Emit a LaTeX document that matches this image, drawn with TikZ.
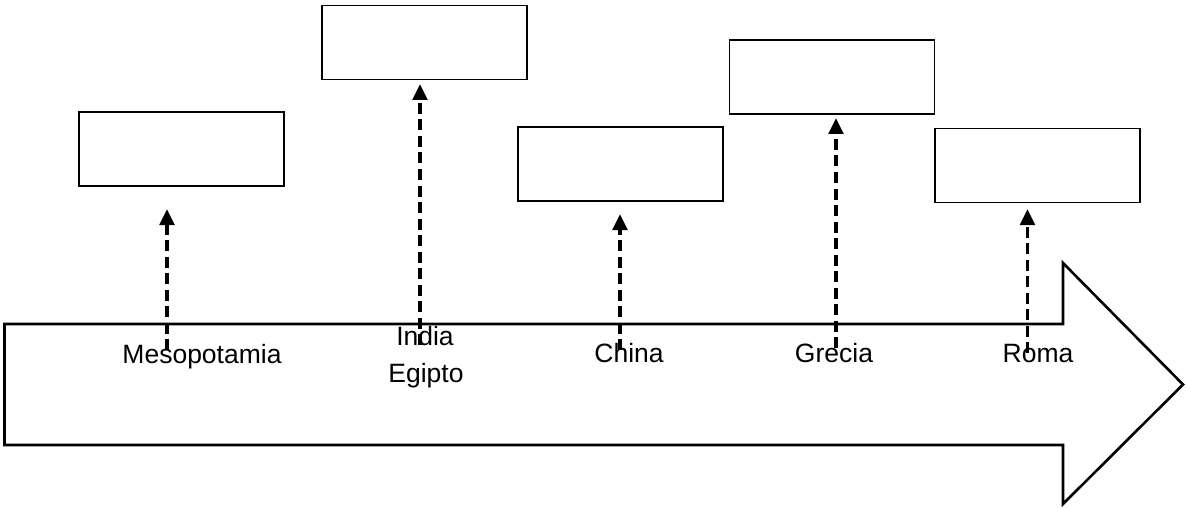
\documentclass[tikz,border=0pt]{standalone}
\usepackage{fontspec}
\setmainfont{Liberation Sans}
\usetikzlibrary{positioning,arrows.meta}

\tikzset{
  period/.style={draw, line width=1.3pt, minimum width=205pt, minimum height=74pt, inner sep=0pt},
  civ/.style={font=\fontsize{26.5}{37}\selectfont, inner sep=0pt, anchor=base},
  link/.style={dashed, dash pattern=on 11pt off 5.5pt, line width=3.4pt, -{Triangle[width=14.5pt,length=16pt]}}
}

\begin{document}
\begin{tikzpicture}[x=1pt, y=-1pt]
  % Frame
  \useasboundingbox (0,0) rectangle (1186,508);

  % Big timeline arrow
  \draw[line width=2.6pt, line join=miter] (4.5,324) -- (1063,324) -- (1063,263) -- (1183,384.5)
    -- (1063,504) -- (1063,445) -- (4.5,445) -- cycle;

  % Empty boxes
  \node[period] (mesoBox)   at (181.5,149)  {};
  \node[period] (indiaBox)  at (424.5,42.5) {};
  \node[period] (chinaBox)  at (620.5,164)  {};
  \node[period] (greciaBox) at (832,77)     {};
  \node[period] (romaBox)   at (1037.5,165.5) {};

  % Labels on the timeline
  \node[civ] (meso)   at (202,363)  {Mesopotamia};
  \node[civ] (india)  at (425,345)  {India};
  \node[civ] (egipto) at (426,382)  {Egipto};
  \node[civ] (china)  at (629,362)  {China};
  \node[civ] (grecia) at (834,362)  {Grecia};
  \node[civ] (roma)   at (1038,362) {Roma};

  % Dashed pointers
  \coordinate (mesoTail) at (167,350);   \coordinate (mesoHead) at (167,209);
  \coordinate (indiaTail) at (420,345);  \coordinate (indiaHead) at (420,84);
  \coordinate (chinaTail) at (620,350);  \coordinate (chinaHead) at (620,214);
  \coordinate (greciaTail) at (836,348); \coordinate (greciaHead) at (836,118);
  \coordinate (romaTail) at (1027.5,353); \coordinate (romaHead) at (1027.5,209);
  \draw[link] (mesoTail) -- (mesoHead);
  \draw[link] (indiaTail) -- (indiaHead);
  \draw[link] (chinaTail) -- (chinaHead);
  \draw[link] (greciaTail) -- (greciaHead);
  \draw[link] (romaTail) -- (romaHead);
\end{tikzpicture}
\end{document}
